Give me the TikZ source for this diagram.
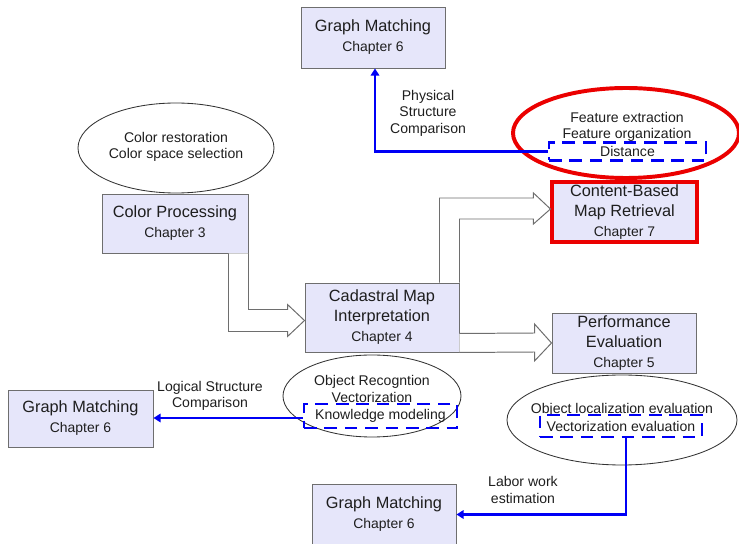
\documentclass[tikz,border=0pt]{standalone}
\usepackage{fontspec}
\setmainfont{Liberation Sans}
\usetikzlibrary{calc}
\usetikzlibrary{arrows.meta}
\usetikzlibrary{shapes.geometric}
\definecolor{boxfill}{RGB}{230, 230, 250}
\definecolor{boxline}{RGB}{110, 110, 110}
\definecolor{inkgray}{RGB}{30, 30, 30}
\definecolor{linkblue}{RGB}{0, 0, 245}
\definecolor{alertred}{RGB}{235, 0, 0}

% one unit of the grid
\newlength\px
\setlength\px{0.025cm}
\newcommand\chapfont{\fontsize{9.9}{13.5}\selectfont}
\newcommand\notefont{\fontsize{10}{11.8}\selectfont}

\tikzset{
    chapbox/.style={draw=boxline, fill=boxfill, line width=0.7pt, align=center,
        inner sep=0pt, text=inkgray, font=\fontsize{11.6}{14.2}\selectfont,
        minimum width=144\px, minimum height=60\px},
    hotbox/.style={chapbox, draw=alertred, line width=2.2pt},
    topic/.style={ellipse, draw=black!80, line width=0.6pt, inner sep=0pt},
    hottopic/.style={topic, draw=alertred, line width=2.8pt},
    note/.style={align=center, inner sep=0pt, text=inkgray, font=\notefont},
    pick/.style={note, draw=linkblue, line width=2.1pt, dash pattern=on 9pt off 5.5pt},
    link/.style={draw=linkblue, line width=1.8pt, -{Triangle[length=5pt,width=6pt]}},
    flow/.style={draw=boxline, fill=white, line width=0.7pt, line join=miter}
}

\begin{document}
\begin{tikzpicture}[x=0.025cm, y=-0.025cm]
    \useasboundingbox (0,0) rectangle (739,544);

    % topic ellipses
    \node[topic, minimum width=196\px, minimum height=90\px]   (colortopic) at (176,148) {};
    \node[hottopic, minimum width=226\px, minimum height=90\px] (feattopic) at (626,133) {};
    \node[topic, minimum width=178\px, minimum height=82\px]   (objtopic)  at (372,396) {};
    \node[topic, minimum width=230\px, minimum height=90\px]   (evaltopic) at (622,420) {};

    % chapters
    \node[chapbox, minimum height=61\px]                     (gmtop)  at (373,37.5)  {Graph Matching\\{\chapfont Chapter 6}};
    \node[chapbox, minimum width=146\px, minimum height=59\px] (cp)   at (175,223.5) {Color Processing\\{\chapfont Chapter 3}};
    \node[chapbox, minimum width=154\px, minimum height=69\px] (cmi)  at (382,317.5) {Cadastral Map\\Interpretation\\{\chapfont Chapter 4}};
    \node[hotbox, minimum width=145\px]                      (cbmr)   at (624.5,212) {Content-Based\\Map Retrieval\\{\chapfont Chapter 7}};
    \node[chapbox]                                           (pe)     at (624,343)   {Performance\\Evaluation\\{\chapfont Chapter 5}};
    \node[chapbox, minimum width=145\px, minimum height=57\px] (gmleft) at (80.5,418.5) {Graph Matching\\{\chapfont Chapter 6}};
    \node[chapbox, minimum height=61\px]                     (gmbot)  at (384,514.5) {Graph Matching\\{\chapfont Chapter 6}};

    % what each step does
    \node[note] (colortxt) at (176,147) {Color restoration\\Color space selection};
    \node[note] (feattxt)  at (627,127) {Feature extraction\\Feature organization};
    \node[note] (objtxt)   at (372,389) {Object Recogntion\\Vectorization};
    \node[note] (evaltxt)  at (622,410) {Object localization evaluation};
    \node[pick, minimum width=157\px, minimum height=18\px] (dist)    at (627.5,151.5) {Distance};
    \node[pick, minimum width=153\px, minimum height=24\px] (knowmod) at (380.5,416)   {Knowledge modeling};
    \node[pick, minimum width=162\px, minimum height=22\px] (vecteval) at (621,426)    {Vectorization evaluation};

    % hollow flow arrows
    \draw[flow] (cp.south east) |- ($(cmi.west)+(-17,-8)$) -- ++(0,-5) -- ($(cmi.west)+(0,3)$)
        -- ++(-17,16) -- ++(0,-5) -| ($(cp.south east)+(-20,0)$);
    \draw[flow] (cmi.north east) |- ($(cbmr.west)+(-17,7)$) -- ++(0,5) -- ($(cbmr.west)+(0,-3)$)
        -- ++(-17,-16) -- ++(0,5) -| ($(cmi.north east)+(-20,0)$);
    \draw[flow] (cmi.south east) -- ($(pe.west)+(-17,9)$) -- ++(0,9) -- (pe.west)
        -- ++(-17,-19) -- ++(0,9) -- ($(cmi.south east)+(0,-19)$);

    % graph matching links
    \draw[link] (dist.west) -| ($(gmtop.south)+(2,0)$);
    \node[note] (physlbl) at (428,113) {Physical\\Structure\\Comparison};
    \draw[link] (knowmod.west |- 0,418) -- (gmleft.east |- 0,418);
    \node[note] (loglbl) at (210,396) {Logical Structure\\Comparison};
    \draw[link] ($(vecteval.south)+(5,0)$) |- (gmbot.east);
    \node[note] (laborlbl) at (523,490) {Labor work\\estimation};
\end{tikzpicture}
\end{document}
